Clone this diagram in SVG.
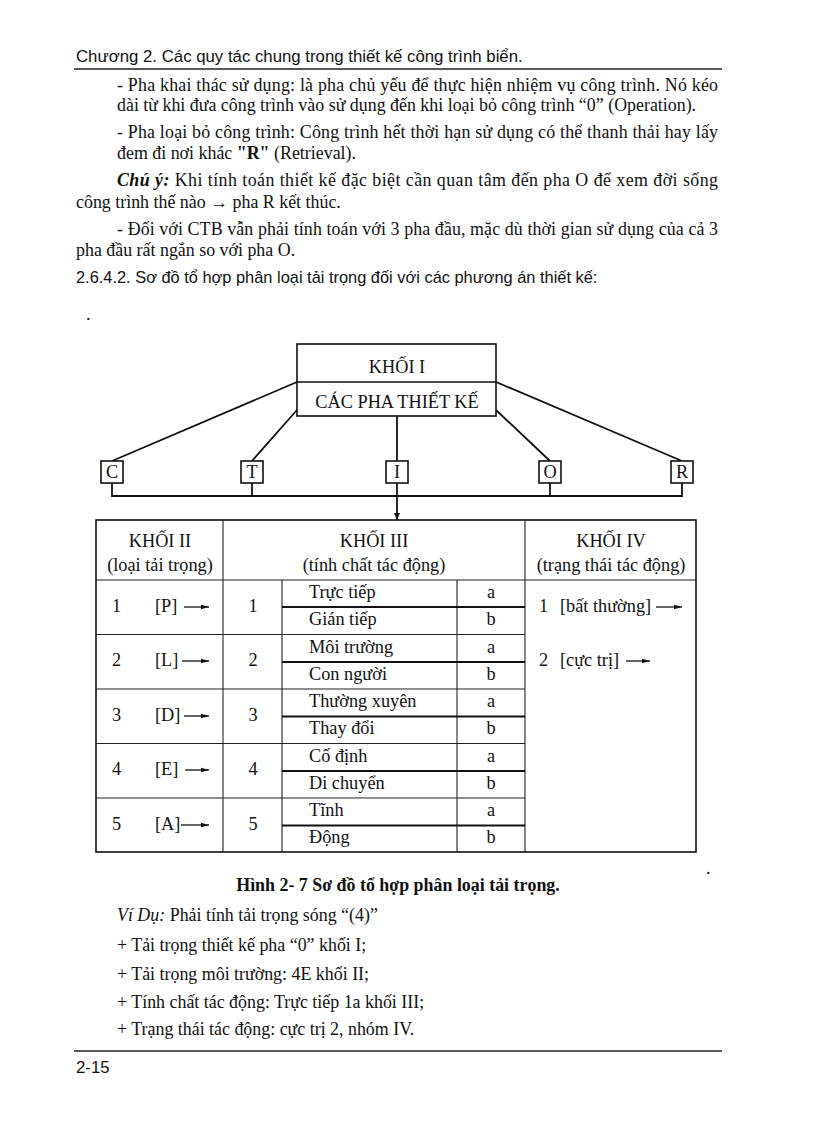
<svg xmlns="http://www.w3.org/2000/svg" width="816" height="1123" viewBox="0 0 816 1123">
<style>
  .sans { font-family: "Liberation Sans", Arial, sans-serif; font-size: 16.8px; fill: #111; }
  .serif { font-family: "Liberation Serif", "Times New Roman", serif; font-size: 17.9px; fill: #111; }
  .tb { font-family: "Liberation Serif", "Times New Roman", serif; font-size: 18.3px; fill: #111; }
  .mid { text-anchor: middle; }
  .box { fill: #fff; stroke: #111; stroke-width: 1.6; }
  .ln { stroke: #111; stroke-width: 1.8; fill: none; }
  .tl { stroke: #222; stroke-width: 1.1; fill: none; }
  .sub { stroke: #111; stroke-width: 2; fill: none; }
  .rule { stroke: #222; stroke-width: 1.5; }
  .arr { stroke: #111; stroke-width: 1.3; marker-end: url(#ah); }
</style>
<defs>
  <marker id="ah" markerWidth="8" markerHeight="6" refX="8" refY="3" orient="auto" markerUnits="userSpaceOnUse">
    <path d="M0,0.8 L8,3 L0,5.2 Z" fill="#111"/>
  </marker>
  <marker id="ahd" markerWidth="7" markerHeight="8" refX="7" refY="4" orient="auto" markerUnits="userSpaceOnUse">
    <path d="M0,1 L7,4 L0,7 Z" fill="#111"/>
  </marker>
</defs>
<rect width="816" height="1123" fill="#fff"/>

<!-- page header -->
<text class="sans" x="76" y="62">Chương 2. Các quy tác chung trong thiết kế công trình biển.</text>
<line class="rule" x1="74" y1="69" x2="722" y2="69"/>

<!-- body text -->
<text class="serif" x="117" y="91" textLength="601" lengthAdjust="spacing">- Pha khai thác sử dụng: là pha chủ yếu để thực hiện nhiệm vụ công trình. Nó kéo</text>
<text class="serif" x="117" y="111">dài từ khi đưa công trình vào sử dụng đến khi loại bỏ công trình “0” (Operation).</text>
<text class="serif" x="117" y="138" textLength="601" lengthAdjust="spacing">- Pha loại bỏ công trình: Công trình hết thời hạn sử dụng có thể thanh thải hay lấy</text>
<text class="serif" x="117" y="159">đem đi nơi khác <tspan font-weight="bold">"R"</tspan> (Retrieval).</text>
<text class="serif" x="117" y="186" textLength="601" lengthAdjust="spacing"><tspan font-weight="bold" font-style="italic">Chú ý:</tspan> Khi tính toán thiết kế đặc biệt cần quan tâm đến pha O để xem đời sống</text>
<text class="serif" x="76" y="208">công trình thế nào → pha R kết thúc.</text>
<text class="serif" x="117" y="235" textLength="601" lengthAdjust="spacing">- Đối với CTB vẫn phải tính toán với 3 pha đầu, mặc dù thời gian sử dụng của cả 3</text>
<text class="serif" x="76" y="256">pha đầu rất ngắn so với pha O.</text>
<text class="sans" x="76" y="283" style="font-size:16.4px">2.6.4.2. Sơ đồ tổ hợp phân loại tải trọng đối với các phương án thiết kế:</text>
<text class="serif" x="86" y="320">.</text>

<!-- connectors -->
<g id="connectors">
  <line class="ln" x1="297" y1="382" x2="112" y2="461"/>
  <line class="ln" x1="297" y1="410" x2="252" y2="461"/>
  <line class="ln" x1="496" y1="410" x2="550" y2="461"/>
  <line class="ln" x1="496" y1="382" x2="682" y2="461"/>
  <line class="ln" x1="397" y1="416" x2="397" y2="461"/>
  <polyline class="ln" points="112,483 112,496 682,496 682,483"/>
  <line class="ln" x1="252" y1="483" x2="252" y2="496"/>
  <line class="ln" x1="550" y1="483" x2="550" y2="496"/>
  <line x1="397" y1="483" x2="397" y2="520" stroke="#111" stroke-width="1.8" marker-end="url(#ahd)"/>
</g>

<!-- Khoi I -->
<g id="khoi1">
  <rect class="box" x="297" y="344" width="199" height="72"/>
  <line class="box" x1="297" y1="382" x2="496" y2="382"/>
  <text class="tb mid" x="397" y="373">KHỐI I</text>
  <text class="tb mid" x="397" y="408">CÁC PHA THIẾT KẾ</text>
</g>

<g id="phaseC"><rect class="box" x="101" y="461" width="22" height="22"/><text class="tb mid" x="112" y="478">C</text></g>
<g id="phaseT"><rect class="box" x="241" y="461" width="22" height="22"/><text class="tb mid" x="252" y="478">T</text></g>
<g id="phaseI"><rect class="box" x="386" y="461" width="22" height="22"/><text class="tb mid" x="397" y="478">I</text></g>
<g id="phaseO"><rect class="box" x="539" y="461" width="22" height="22"/><text class="tb mid" x="550" y="478">O</text></g>
<g id="phaseR"><rect class="box" x="671" y="461" width="22" height="22"/><text class="tb mid" x="682" y="478">R</text></g>

<!-- table -->
<g id="table">
  <rect x="96" y="520" width="600" height="332" fill="none" stroke="#111" stroke-width="1.6"/>
  <line class="tl" x1="96" y1="580" x2="696" y2="580"/>
  <line class="tl" x1="223" y1="520" x2="223" y2="852"/>
  <line class="tl" x1="282" y1="580" x2="282" y2="852"/>
  <line class="tl" x1="457" y1="580" x2="457" y2="852"/>
  <line class="tl" x1="525" y1="520" x2="525" y2="852"/>
  <line class="tl" x1="96" y1="634.5" x2="525" y2="634.5"/>
  <line class="tl" x1="96" y1="689" x2="525" y2="689"/>
  <line class="tl" x1="96" y1="743.5" x2="525" y2="743.5"/>
  <line class="tl" x1="96" y1="798" x2="525" y2="798"/>
  <line class="sub" x1="282" y1="607" x2="525" y2="607"/>
  <line class="sub" x1="282" y1="662" x2="525" y2="662"/>
  <line class="sub" x1="282" y1="716.5" x2="525" y2="716.5"/>
  <line class="sub" x1="282" y1="771" x2="525" y2="771"/>
  <line class="sub" x1="282" y1="825.5" x2="525" y2="825.5"/>
</g>

<g id="khoi2">
  <text class="tb mid" x="160" y="547">KHỐI II</text>
  <text class="tb mid" x="160" y="571">(loại tải trọng)</text>
  <text class="tb" x="112" y="612">1</text><text class="tb" x="155" y="612">[P]</text>
  <line class="arr" x1="184" y1="607" x2="209" y2="607"/>
  <text class="tb" x="112" y="666">2</text><text class="tb" x="155" y="666">[L]</text>
  <line class="arr" x1="182" y1="661" x2="209" y2="661"/>
  <text class="tb" x="112" y="721">3</text><text class="tb" x="155" y="721">[D]</text>
  <line class="arr" x1="184" y1="716" x2="209" y2="716"/>
  <text class="tb" x="112" y="775">4</text><text class="tb" x="155" y="775">[E]</text>
  <line class="arr" x1="185" y1="770" x2="209" y2="770"/>
  <text class="tb" x="112" y="830">5</text><text class="tb" x="155" y="830">[A]</text>
  <line class="arr" x1="181" y1="825" x2="209" y2="825"/>
</g>

<g id="khoi3">
  <text class="tb mid" x="374" y="547">KHỐI III</text>
  <text class="tb mid" x="374" y="571">(tính chất tác động)</text>
  <text class="tb mid" x="253" y="612">1</text>
  <text class="tb mid" x="253" y="666">2</text>
  <text class="tb mid" x="253" y="721">3</text>
  <text class="tb mid" x="253" y="775">4</text>
  <text class="tb mid" x="253" y="830">5</text>
  <text class="tb" x="309" y="598">Trực tiếp</text><text class="tb mid" x="491" y="598">a</text>
  <text class="tb" x="309" y="625">Gián tiếp</text><text class="tb mid" x="491" y="625">b</text>
  <text class="tb" x="309" y="653">Môi trường</text><text class="tb mid" x="491" y="653">a</text>
  <text class="tb" x="309" y="680">Con người</text><text class="tb mid" x="491" y="680">b</text>
  <text class="tb" x="309" y="707">Thường xuyên</text><text class="tb mid" x="491" y="707">a</text>
  <text class="tb" x="309" y="734">Thay đổi</text><text class="tb mid" x="491" y="734">b</text>
  <text class="tb" x="309" y="762">Cố định</text><text class="tb mid" x="491" y="762">a</text>
  <text class="tb" x="309" y="789">Di chuyển</text><text class="tb mid" x="491" y="789">b</text>
  <text class="tb" x="309" y="816">Tĩnh</text><text class="tb mid" x="491" y="816">a</text>
  <text class="tb" x="309" y="843">Động</text><text class="tb mid" x="491" y="843">b</text>
</g>

<g id="khoi4">
  <text class="tb mid" x="611" y="547">KHỐI IV</text>
  <text class="tb mid" x="611" y="571">(trạng thái tác động)</text>
  <text class="tb" x="539" y="612">1</text><text class="tb" x="560" y="612">[bất thường]</text>
  <line class="arr" x1="656" y1="607" x2="682" y2="607"/>
  <text class="tb" x="539" y="666">2</text><text class="tb" x="560" y="666">[cực trị]</text>
  <line class="arr" x1="626" y1="661" x2="650" y2="661"/>
</g>

<!-- caption and notes -->
<text class="serif" x="706" y="874">.</text>
<text class="serif mid" x="398" y="891" font-weight="bold">Hình 2- 7 Sơ đồ tổ hợp phân loại tải trọng.</text>
<text class="serif" x="117" y="921"><tspan font-style="italic">Ví Dụ:</tspan> Phải tính tải trọng sóng “(4)”</text>
<text class="serif" x="117" y="951">+ Tải trọng thiết kế pha “0” khối I;</text>
<text class="serif" x="117" y="980">+ Tải trọng môi trường: 4E khối II;</text>
<text class="serif" x="117" y="1008">+ Tính chất tác động: Trực tiếp 1a khối III;</text>
<text class="serif" x="117" y="1035">+ Trạng thái tác động: cực trị 2, nhóm IV.</text>

<line class="rule" x1="74" y1="1051" x2="722" y2="1051"/>
<text class="sans" x="76" y="1073">2-15</text>
</svg>
